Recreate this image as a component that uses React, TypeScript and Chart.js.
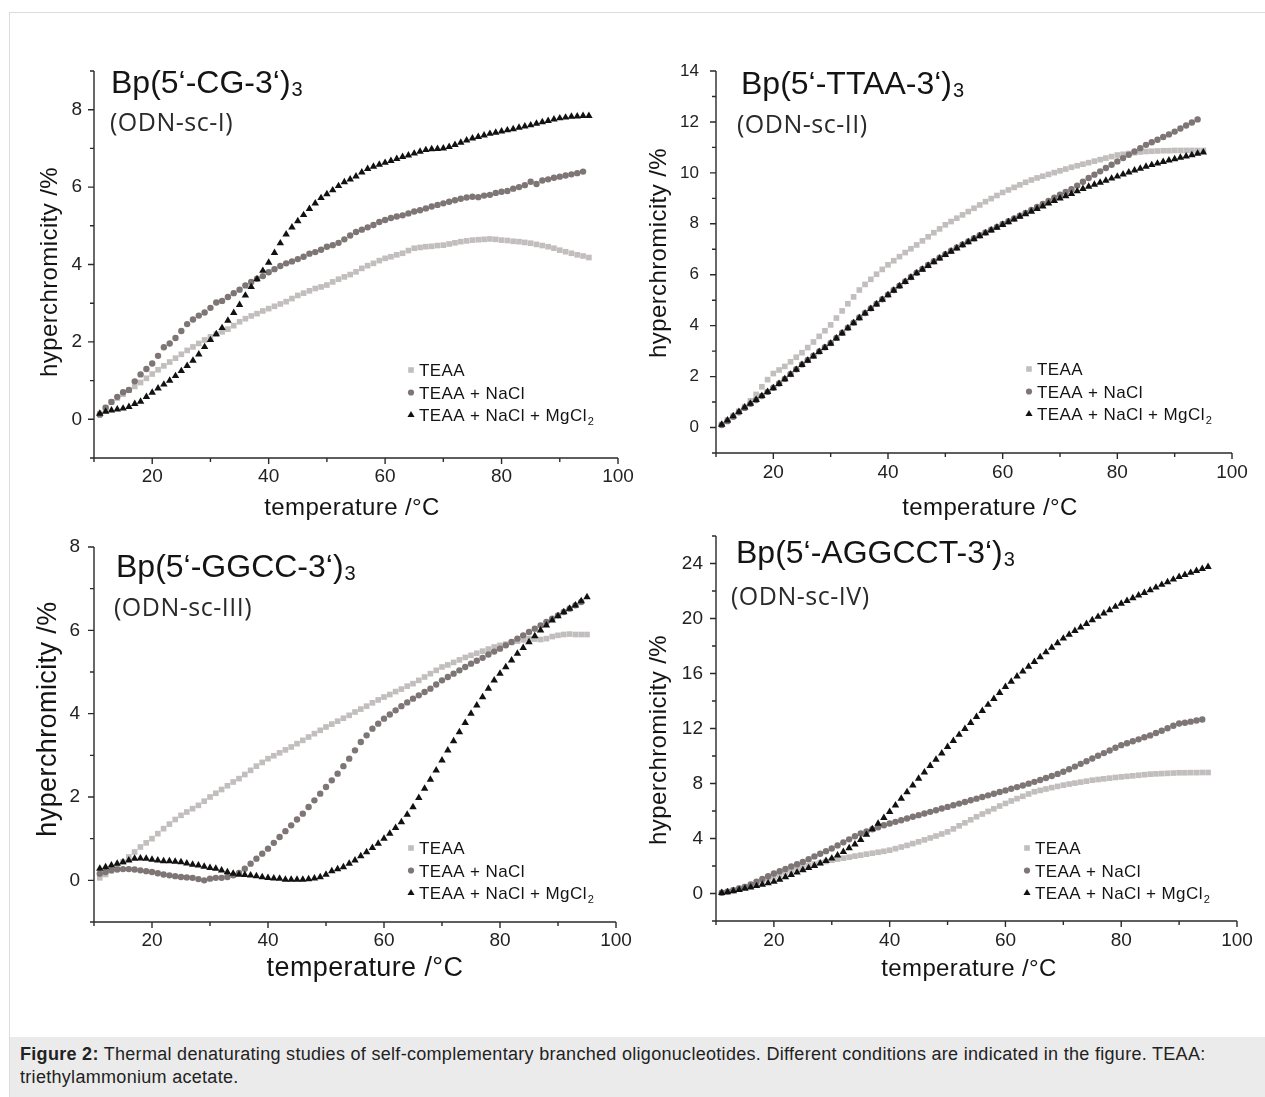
import React, { useEffect, useRef } from 'react';
import { Chart, registerables } from 'chart.js';

Chart.register(...registerables);

// ---------------- data ----------------
const temps = [
  11, 12, 13, 14, 15, 16, 17, 18, 19, 20,
  21, 22, 23, 24, 25, 26, 27, 28, 29, 30,
  31, 32, 33, 34, 35, 36, 37, 38, 39, 40,
  41, 42, 43, 44, 45, 46, 47, 48, 49, 50,
  51, 52, 53, 54, 55, 56, 57, 58, 59, 60,
  61, 62, 63, 64, 65, 66, 67, 68, 69, 70,
  71, 72, 73, 74, 75, 76, 77, 78, 79, 80,
  81, 82, 83, 84, 85, 86, 87, 88, 89, 90,
  91, 92, 93, 94, 95,
];

// Panel I : Bp(5'-CG-3')3
const cgTEAA = [
  0.15, 0.3, 0.45, 0.55, 0.65, 0.75, 0.85, 0.95, 1.06, 1.17,
  1.28, 1.38, 1.48, 1.58, 1.68, 1.78, 1.87, 1.96, 2.05, 2.13,
  2.2, 2.26, 2.33, 2.42, 2.52, 2.6, 2.67, 2.73, 2.8, 2.86,
  2.92, 2.98, 3.04, 3.12, 3.2, 3.26, 3.32, 3.38, 3.42, 3.47,
  3.55, 3.62, 3.68, 3.74, 3.81, 3.9, 3.97, 4.03, 4.1, 4.16,
  4.2, 4.25, 4.29, 4.36, 4.42, 4.44, 4.46, 4.47, 4.49, 4.5,
  4.53, 4.56, 4.59, 4.61, 4.63, 4.64, 4.65, 4.66, 4.65, 4.63,
  4.62, 4.6, 4.59, 4.57, 4.55, 4.52, 4.49, 4.46, 4.42, 4.37,
  4.33, 4.29, 4.25, 4.22, 4.18,
];
const cgNaCl = [
  0.12, 0.3, 0.45, 0.58, 0.7, 0.76, 0.98, 1.16, 1.3, 1.44,
  1.64, 1.86, 1.96, 2.1, 2.28, 2.46, 2.58, 2.68, 2.76, 2.88,
  3.02, 3.06, 3.16, 3.26, 3.35, 3.46, 3.55, 3.63, 3.7, 3.8,
  3.88, 3.96, 4.03, 4.08, 4.14, 4.2, 4.28, 4.32, 4.38, 4.46,
  4.5, 4.56, 4.65, 4.75, 4.84, 4.9, 4.96, 5.02, 5.1, 5.15,
  5.2, 5.24, 5.27, 5.32, 5.37, 5.4, 5.45, 5.5, 5.54, 5.58,
  5.62, 5.66, 5.7, 5.73, 5.75, 5.74, 5.78, 5.8, 5.85, 5.88,
  5.9, 5.96, 6.0, 6.05, 6.14, 6.08, 6.17, 6.2, 6.24, 6.27,
  6.3, 6.33, 6.36, 6.4,
];
const cgMgCl2 = [
  0.15, 0.2, 0.23, 0.26, 0.28, 0.32, 0.4, 0.46, 0.58, 0.69,
  0.8, 0.9, 1.0, 1.12, 1.25, 1.38, 1.52, 1.68, 1.87, 2.05,
  2.2, 2.36, 2.55, 2.75, 2.96, 3.2, 3.42, 3.62, 3.84, 4.05,
  4.3, 4.55, 4.78, 4.96, 5.12, 5.28, 5.44, 5.58, 5.72, 5.82,
  5.92, 6.03, 6.13, 6.2, 6.28, 6.38, 6.47, 6.53, 6.58, 6.63,
  6.68, 6.73, 6.78, 6.82, 6.87, 6.92, 6.96, 6.98, 6.99, 7.0,
  7.04, 7.09, 7.15, 7.21, 7.26, 7.3, 7.34, 7.38, 7.41, 7.44,
  7.47, 7.5, 7.54, 7.57, 7.6, 7.64, 7.68, 7.71, 7.75, 7.78,
  7.8, 7.82, 7.83, 7.84, 7.84,
];

// Panel II : Bp(5'-TTAA-3')3
const ttaaTEAA = [
  0.12, 0.3, 0.47, 0.64, 0.82, 1.05, 1.3, 1.6, 1.88, 2.12,
  2.26, 2.4, 2.58, 2.76, 2.94, 3.14, 3.36, 3.58, 3.8, 4.03,
  4.3, 4.58, 4.86, 5.13, 5.4, 5.62, 5.82, 6.02, 6.21, 6.39,
  6.55, 6.71, 6.87, 7.02, 7.17, 7.33, 7.49, 7.65, 7.8, 7.96,
  8.09, 8.22, 8.35, 8.48, 8.61, 8.74, 8.87, 8.99, 9.11, 9.23,
  9.33, 9.43, 9.53, 9.63, 9.72, 9.8, 9.87, 9.94, 10.01, 10.08,
  10.15, 10.22, 10.28, 10.34, 10.4, 10.46, 10.52, 10.58, 10.64, 10.7,
  10.73, 10.76, 10.79, 10.82, 10.84, 10.85, 10.86, 10.87, 10.87, 10.88,
  10.88, 10.88, 10.88, 10.88, 10.88,
];
const ttaaNaCl = [
  0.1, 0.25, 0.42, 0.6, 0.77, 0.93, 1.08, 1.24, 1.4, 1.56,
  1.73, 1.91, 2.1, 2.29, 2.48, 2.65, 2.82, 2.99, 3.15, 3.32,
  3.52, 3.72, 3.92, 4.12, 4.32, 4.5, 4.68, 4.86, 5.04, 5.22,
  5.4, 5.57, 5.74, 5.91, 6.08, 6.23, 6.38, 6.53, 6.67, 6.81,
  6.94, 7.07, 7.19, 7.31, 7.43, 7.55, 7.66, 7.77, 7.88, 7.99,
  8.1, 8.21, 8.32, 8.43, 8.54, 8.66, 8.78, 8.9, 9.02, 9.14,
  9.25, 9.36, 9.5, 9.65, 9.8, 9.93, 10.06, 10.19, 10.32, 10.45,
  10.58, 10.71, 10.84, 10.97, 11.1, 11.2, 11.3, 11.41, 11.51, 11.62,
  11.74, 11.86, 11.98, 12.1,
];
const ttaaMgCl2 = [
  0.12, 0.28, 0.45, 0.62, 0.79, 0.94, 1.09, 1.24, 1.4, 1.55,
  1.72, 1.9, 2.08, 2.27, 2.46, 2.63, 2.8, 2.97, 3.13, 3.3,
  3.5, 3.7, 3.9, 4.1, 4.3, 4.48, 4.66, 4.84, 5.02, 5.2,
  5.38, 5.55, 5.72, 5.89, 6.06, 6.2, 6.35, 6.5, 6.64, 6.78,
  6.91, 7.04, 7.16, 7.28, 7.4, 7.52, 7.63, 7.74, 7.85, 7.96,
  8.07, 8.17, 8.28, 8.38, 8.48, 8.59, 8.69, 8.8, 8.9, 9.0,
  9.09, 9.18, 9.28, 9.37, 9.46, 9.54, 9.62, 9.7, 9.78, 9.86,
  9.94, 10.02, 10.1, 10.17, 10.25, 10.31, 10.37, 10.43, 10.49, 10.54,
  10.6, 10.65, 10.7, 10.76, 10.81,
];

// Panel III : Bp(5'-GGCC-3')3
const ggccTEAA = [
  0.06, 0.14, 0.23, 0.32, 0.44, 0.56, 0.68, 0.8, 0.9, 1.0,
  1.12, 1.24, 1.35, 1.46, 1.56, 1.64, 1.72, 1.8, 1.9, 2.0,
  2.09, 2.18, 2.27, 2.36, 2.44, 2.54, 2.64, 2.74, 2.83, 2.92,
  2.99, 3.06, 3.13, 3.2, 3.28, 3.36, 3.44, 3.52, 3.6, 3.68,
  3.75, 3.82, 3.89, 3.96, 4.04, 4.11, 4.18, 4.26, 4.33, 4.4,
  4.46, 4.53, 4.59, 4.66, 4.72, 4.8, 4.88, 4.96, 5.04, 5.12,
  5.17, 5.23, 5.29, 5.35, 5.4, 5.45, 5.5, 5.55, 5.6, 5.64,
  5.67, 5.71, 5.74, 5.77, 5.8, 5.79, 5.78, 5.8, 5.85, 5.88,
  5.9, 5.91, 5.9, 5.9, 5.9,
];
const ggccNaCl = [
  0.16, 0.2, 0.24, 0.26, 0.27, 0.27, 0.26, 0.24, 0.22, 0.2,
  0.17, 0.14, 0.12, 0.1, 0.08, 0.07, 0.06, 0.03, 0.0, 0.04,
  0.06, 0.06, 0.08, 0.12, 0.18, 0.28, 0.4, 0.52, 0.64, 0.76,
  0.9, 1.04, 1.18, 1.32, 1.46, 1.6, 1.76, 1.92, 2.08, 2.24,
  2.4, 2.56, 2.74, 2.92, 3.12, 3.32, 3.48, 3.64, 3.76, 3.88,
  3.98, 4.08, 4.18, 4.27, 4.36, 4.44, 4.52, 4.6, 4.7, 4.8,
  4.88, 4.96, 5.04, 5.12, 5.2, 5.27, 5.34, 5.42, 5.49, 5.56,
  5.64, 5.72, 5.8, 5.88, 5.96, 6.04, 6.12, 6.2, 6.28, 6.36,
  6.44, 6.52, 6.6, 6.68,
];
const ggccMgCl2 = [
  0.28, 0.32, 0.36, 0.4, 0.44, 0.48, 0.52, 0.53, 0.52, 0.5,
  0.48, 0.46, 0.46, 0.45, 0.44, 0.41, 0.38, 0.36, 0.33, 0.3,
  0.28, 0.24, 0.2, 0.16, 0.14, 0.13, 0.12, 0.1, 0.08, 0.06,
  0.05, 0.04, 0.02, 0.02, 0.02, 0.02, 0.03, 0.05, 0.08, 0.14,
  0.22, 0.27, 0.32, 0.4, 0.48, 0.58, 0.68, 0.78, 0.88, 1.0,
  1.12, 1.26, 1.4, 1.58, 1.76, 1.98, 2.2, 2.42, 2.64, 2.88,
  3.12, 3.34, 3.56, 3.78, 4.0, 4.2, 4.4, 4.6, 4.8, 4.96,
  5.12, 5.28, 5.44, 5.58, 5.72, 5.86, 6.0, 6.12, 6.24, 6.34,
  6.44, 6.52, 6.6, 6.7, 6.8,
];

// Panel IV : Bp(5'-AGGCCT-3')3
const aggcctTEAA = [
  0.05, 0.14, 0.25, 0.37, 0.5, 0.64, 0.78, 0.92, 1.06, 1.2,
  1.36, 1.52, 1.67, 1.81, 1.94, 2.04, 2.14, 2.24, 2.33, 2.42,
  2.5, 2.57, 2.64, 2.72, 2.79, 2.86, 2.93, 3.0, 3.07, 3.15,
  3.26, 3.38, 3.5, 3.63, 3.76, 3.9, 4.04, 4.18, 4.33, 4.48,
  4.7, 4.92, 5.14, 5.36, 5.58, 5.78, 5.97, 6.16, 6.36, 6.55,
  6.73, 6.9, 7.07, 7.24, 7.4, 7.5, 7.6, 7.7, 7.79, 7.88,
  7.96, 8.03, 8.1, 8.17, 8.24, 8.29, 8.34, 8.39, 8.44, 8.48,
  8.52, 8.56, 8.6, 8.64, 8.68, 8.7, 8.72, 8.74, 8.76, 8.78,
  8.78, 8.79, 8.79, 8.8, 8.8,
];
const aggcctNaCl = [
  0.05, 0.14, 0.24, 0.36, 0.48, 0.66, 0.86, 1.06, 1.26, 1.45,
  1.62, 1.79, 1.96, 2.13, 2.3, 2.5, 2.7, 2.89, 3.08, 3.27,
  3.5, 3.72, 3.94, 4.16, 4.36, 4.52, 4.67, 4.82, 4.96, 5.09,
  5.21, 5.33, 5.46, 5.58, 5.7, 5.82, 5.94, 6.06, 6.18, 6.3,
  6.42, 6.54, 6.66, 6.78, 6.9, 7.02, 7.14, 7.26, 7.38, 7.5,
  7.62, 7.74, 7.86, 7.99, 8.12, 8.26, 8.4, 8.55, 8.7, 8.85,
  9.04, 9.23, 9.43, 9.62, 9.82, 10.02, 10.21, 10.4, 10.6, 10.79,
  10.93, 11.07, 11.21, 11.36, 11.5, 11.67, 11.84, 12.02, 12.2, 12.36,
  12.42, 12.5, 12.58, 12.65,
];
const aggcctMgCl2 = [
  0.05, 0.1, 0.18, 0.27, 0.36, 0.45, 0.55, 0.65, 0.75, 0.86,
  1.02, 1.19, 1.36, 1.53, 1.7, 1.86, 2.02, 2.2, 2.37, 2.55,
  2.78, 3.03, 3.3, 3.58, 3.9, 4.28, 4.68, 5.08, 5.5, 5.94,
  6.42, 6.9, 7.38, 7.87, 8.36, 8.82, 9.28, 9.74, 10.2, 10.67,
  11.11, 11.55, 11.98, 12.42, 12.85, 13.29, 13.73, 14.16, 14.6, 15.03,
  15.42, 15.8, 16.15, 16.5, 16.85, 17.2, 17.55, 17.89, 18.22, 18.55,
  18.83, 19.1, 19.36, 19.62, 19.88, 20.13, 20.38, 20.62, 20.86, 21.09,
  21.29, 21.49, 21.68, 21.87, 22.06, 22.26, 22.46, 22.65, 22.84, 23.03,
  23.18, 23.33, 23.47, 23.62, 23.76,
];

const seriesNames = ['TEAA', 'TEAA + NaCl', 'TEAA + NaCl + MgCl'];
const seriesSubscripts = ['', '', '2'];
const panelTitles = ['Bp(5‘-CG-3‘)', 'Bp(5‘-TTAA-3‘)', 'Bp(5‘-GGCC-3‘)', 'Bp(5‘-AGGCCT-3‘)'];
const panelTitleSub = '3';
const panelSubtitles = ['(ODN-sc-I)', '(ODN-sc-II)', '(ODN-sc-III)', '(ODN-sc-IV)'];
const xTickLabels = [20, 40, 60, 80, 100];
const yTickLabels1 = [0, 2, 4, 6, 8];
const yTickLabels2 = [0, 2, 4, 6, 8, 10, 12, 14];
const yTickLabels3 = [0, 2, 4, 6, 8];
const yTickLabels4 = [0, 4, 8, 12, 16, 20, 24];
const xAxisTitle = 'temperature /°C';
const yAxisTitle = 'hyperchromicity /%';
const captionBold = 'Figure 2:';
const captionLine1 = ' Thermal denaturating studies of self-complementary branched oligonucleotides. Different conditions are indicated in the figure. TEAA:';
const captionLine2 = 'triethylammonium acetate.';

// ---------------- styles / layout ----------------
const W = 1265;
const H = 1097;
const YW = 60;
const XH = 40;
const FONT = '"Liberation Sans", Arial, Helvetica, sans-serif';
const SUBFONT = '"Open Sans", "Liberation Sans", Arial, sans-serif';
const C_TEAA = '#c3bebe';
const C_NACL = '#7e7575';
const C_MG = '#111111';
const AXIS = '#2a2a2a';
const TEXT = '#141414';

const LAYOUTS = [
  { l: 94, r: 618, t: 71, b: 458, xPad: 7, yPad: 12, xTick: 19, yTick: 19,
    titleX: 111, titleY: 93, subX: 110, subY: 131, legX: 411, legY: 370,
    xTitleX: 352, xTitleY: 515, yTitleX: 57, yTitleY: 272, axisTitle: 24 },
  { l: 716, r: 1232, t: 71, b: 453, xPad: 8, yPad: 17, xTick: 19, yTick: 17,
    titleX: 741, titleY: 94, subX: 737, subY: 133, legX: 1029, legY: 369,
    xTitleX: 990, xTitleY: 515, yTitleX: 666, yTitleY: 253, axisTitle: 24 },
  { l: 94, r: 616, t: 547, b: 922, xPad: 7, yPad: 14, xTick: 19, yTick: 19,
    titleX: 116, titleY: 577, subX: 114, subY: 616, legX: 411, legY: 848,
    xTitleX: 365, xTitleY: 976, yTitleX: 56, yTitleY: 719, axisTitle: 27 },
  { l: 716, r: 1237, t: 536, b: 921, xPad: 8, yPad: 13, xTick: 19, yTick: 19,
    titleX: 736, titleY: 563, subX: 731, subY: 605, legX: 1027, legY: 848,
    xTitleX: 969, xTitleY: 976, yTitleX: 666, yTitleY: 740, axisTitle: 24 },
];

const PANELS = [
  { title: panelTitles[0], subtitle: panelSubtitles[0], teaa: cgTEAA, nacl: cgNaCl, mg: cgMgCl2,
    yMin: -1, yMax: 9, yStep: 1, yLabels: yTickLabels1, layout: LAYOUTS[0] },
  { title: panelTitles[1], subtitle: panelSubtitles[1], teaa: ttaaTEAA, nacl: ttaaNaCl, mg: ttaaMgCl2,
    yMin: -1, yMax: 14, yStep: 1, yLabels: yTickLabels2, layout: LAYOUTS[1] },
  { title: panelTitles[2], subtitle: panelSubtitles[2], teaa: ggccTEAA, nacl: ggccNaCl, mg: ggccMgCl2,
    yMin: -1, yMax: 8, yStep: 1, yLabels: yTickLabels3, layout: LAYOUTS[2] },
  { title: panelTitles[3], subtitle: panelSubtitles[3], teaa: aggcctTEAA, nacl: aggcctNaCl, mg: aggcctMgCl2,
    yMin: -2, yMax: 26, yStep: 2, yLabels: yTickLabels4, layout: LAYOUTS[3] },
];

function drawMarker(ctx: CanvasRenderingContext2D, style: string, x: number, y: number, color: string) {
  ctx.fillStyle = color;
  ctx.beginPath();
  if (style === 'rect') {
    ctx.rect(x - 2.8, y - 2.8, 5.6, 5.6);
  } else if (style === 'circle') {
    ctx.arc(x, y, 3.1, 0, Math.PI * 2);
  } else {
    const r = 4.1;
    ctx.moveTo(x, y - r);
    ctx.lineTo(x + r * 0.866, y + r * 0.5);
    ctx.lineTo(x - r * 0.866, y + r * 0.5);
    ctx.closePath();
  }
  ctx.fill();
}

function makeDecor(panel: any) {
  const L = panel.layout;
  return {
    id: 'decor',
    afterDraw(chart: any) {
      const ctx: CanvasRenderingContext2D = chart.ctx;
      const a = chart.chartArea;
      const xs = chart.scales.x;
      const ys = chart.scales.y;
      ctx.save();
      // axis lines and tick marks
      ctx.strokeStyle = AXIS;
      ctx.lineWidth = 1.4;
      ctx.beginPath();
      ctx.moveTo(a.left, a.top);
      ctx.lineTo(a.left, a.bottom);
      ctx.lineTo(a.right, a.bottom);
      xs.ticks.forEach((t: any) => {
        const px = xs.getPixelForValue(t.value);
        const len = xTickLabels.includes(t.value) ? 6 : 4;
        ctx.moveTo(px, a.bottom);
        ctx.lineTo(px, a.bottom + len);
      });
      ys.ticks.forEach((t: any) => {
        const py = ys.getPixelForValue(t.value);
        const len = panel.yLabels.includes(t.value) ? 6 : 4;
        ctx.moveTo(a.left, py);
        ctx.lineTo(a.left - len, py);
      });
      ctx.stroke();

      ctx.fillStyle = TEXT;
      ctx.textAlign = 'left';
      ctx.textBaseline = 'alphabetic';
      // panel title with subscript
      ctx.font = `32px ${FONT}`;
      ctx.fillText(panel.title, L.titleX, L.titleY);
      const tw = ctx.measureText(panel.title).width;
      ctx.font = `20px ${FONT}`;
      ctx.fillText(panelTitleSub, L.titleX + tw + 1, L.titleY + 3);
      // subtitle
      ctx.fillStyle = '#2a2a2a';
      ctx.font = `25px ${SUBFONT}`;
      (ctx as any).letterSpacing = '0.5px';
      ctx.fillText(panel.subtitle, L.subX, L.subY);
      (ctx as any).letterSpacing = '0px';

      // legend
      const styles = ['rect', 'circle', 'triangle'];
      const colors = [C_TEAA, C_NACL, C_MG];
      seriesNames.forEach((name, i) => {
        const cy = L.legY + i * 22.5;
        drawMarker(ctx, styles[i], L.legX, cy, colors[i]);
        ctx.fillStyle = TEXT;
        ctx.font = `17px ${FONT}`;
        (ctx as any).letterSpacing = '0.4px';
        const tx = L.legX + 8;
        ctx.fillText(name, tx, cy + 6);
        const w = ctx.measureText(name).width;
        (ctx as any).letterSpacing = '0px';
        if (seriesSubscripts[i]) {
          ctx.font = `11px ${FONT}`;
          ctx.fillText(seriesSubscripts[i], tx + w + 1, cy + 10);
        }
      });

      // axis titles
      ctx.fillStyle = TEXT;
      ctx.font = `${L.axisTitle}px ${FONT}`;
      (ctx as any).letterSpacing = '0.4px';
      ctx.textAlign = 'center';
      ctx.fillText(xAxisTitle, L.xTitleX, L.xTitleY);
      ctx.save();
      ctx.translate(L.yTitleX, L.yTitleY);
      ctx.rotate(-Math.PI / 2);
      ctx.fillText(yAxisTitle, 0, 0);
      ctx.restore();
      (ctx as any).letterSpacing = '0px';
      ctx.restore();
    },
  };
}

function PanelChart({ panel }: { panel: any }) {
  const ref = useRef<HTMLCanvasElement>(null);
  useEffect(() => {
    const canvas = ref.current;
    if (!canvas) return;
    const L = panel.layout;
    const toPts = (vals: number[]) => vals.map((v, i) => ({ x: temps[i], y: v }));
    const chart = new Chart(canvas, {
      type: 'scatter',
      data: {
        datasets: [
          { label: seriesNames[0], data: toPts(panel.teaa), pointStyle: 'rect', pointRadius: 4,
            backgroundColor: C_TEAA, borderWidth: 0, order: 3 },
          { label: seriesNames[1], data: toPts(panel.nacl), pointStyle: 'circle', pointRadius: 3.2,
            backgroundColor: C_NACL, borderWidth: 0, order: 2 },
          { label: seriesNames[2] + seriesSubscripts[2], data: toPts(panel.mg), pointStyle: 'triangle', pointRadius: 4.3,
            backgroundColor: C_MG, borderWidth: 0, order: 1 },
        ],
      },
      options: {
        responsive: false,
        animation: false,
        events: [],
        layout: {
          padding: { left: L.l - YW, right: W - L.r, top: L.t, bottom: H - L.b - XH },
        },
        plugins: { legend: { display: false }, tooltip: { enabled: false }, title: { display: false } },
        scales: {
          x: {
            type: 'linear',
            min: 10,
            max: 100,
            afterFit: (s: any) => { s.height = XH; },
            grid: { display: false, drawTicks: false },
            border: { display: false },
            ticks: {
              stepSize: 10,
              autoSkip: false,
              maxRotation: 0,
              padding: L.xPad,
              color: '#222',
              font: { family: FONT, size: L.xTick },
              callback: (v: any) => (xTickLabels.includes(v) ? String(v) : ''),
            },
          },
          y: {
            type: 'linear',
            min: panel.yMin,
            max: panel.yMax,
            afterFit: (s: any) => { s.width = YW; },
            grid: { display: false, drawTicks: false },
            border: { display: false },
            ticks: {
              stepSize: panel.yStep,
              autoSkip: false,
              padding: L.yPad,
              color: '#222',
              font: { family: FONT, size: L.yTick },
              callback: (v: any) => (panel.yLabels.includes(v) ? String(v) : ''),
            },
          },
        },
      } as any,
      plugins: [makeDecor(panel)],
    });
    return () => chart.destroy();
  }, [panel]);
  return (
    <canvas
      ref={ref}
      width={W}
      height={H}
      style={{ position: 'absolute', left: 0, top: 0, width: W, height: H }}
    />
  );
}

export default function App() {
  return (
    <div style={{ position: 'absolute', left: 0, top: 0, width: W, height: H, background: '#fff', overflow: 'hidden' }}>
      <div
        style={{
          position: 'absolute', left: 9, top: 12, width: W - 9, height: H - 12,
          borderTop: '1px solid #dcdcdc', borderLeft: '1px solid #dcdcdc', boxSizing: 'border-box',
        }}
      />
      {PANELS.map((p, i) => (
        <PanelChart key={i} panel={p} />
      ))}
      <div
        style={{
          position: 'absolute', left: 10, top: 1037, width: W - 10, height: H - 1037,
          background: '#ebebeb', fontFamily: FONT, fontSize: 18, letterSpacing: '0.3px', lineHeight: '23px', color: '#222',
          padding: '6px 0 0 10px', boxSizing: 'border-box',
        }}
      >
        <div style={{ whiteSpace: 'nowrap' }}>
          <b>{captionBold}</b>
          {captionLine1}
        </div>
        <div>{captionLine2}</div>
      </div>
    </div>
  );
}
